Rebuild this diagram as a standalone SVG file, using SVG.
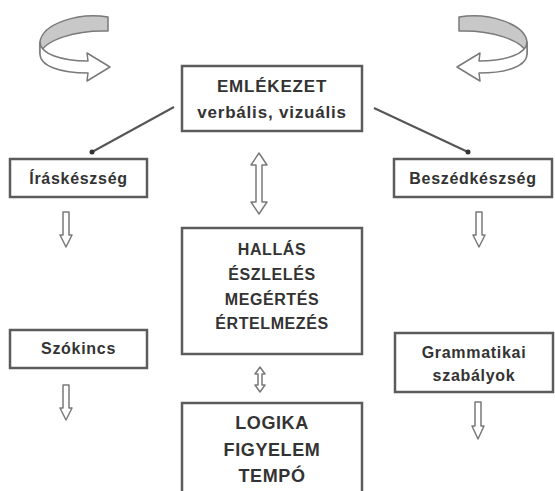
<svg xmlns="http://www.w3.org/2000/svg" width="555" height="491" viewBox="0 0 555 491">
<style>
.box{fill:#fff;stroke:#5c5c5c;stroke-width:2.5}
.t{font-family:"Liberation Sans",Arial,sans-serif;font-weight:bold;fill:#333;text-anchor:middle}
.big{font-size:17px;letter-spacing:0.8px}
.lg{font-size:18px;letter-spacing:0.6px}
.mid{font-size:16px;letter-spacing:0.6px}
.sm{font-size:16px;letter-spacing:0.7px}
.blk{fill:#fff;stroke:#7a7a7a;stroke-width:1.5;stroke-linejoin:round}
.back{fill:#c8c8c8;stroke:#7a7a7a;stroke-width:1.5;stroke-linejoin:round}
.con{stroke:#555;stroke-width:2;fill:none}
</style>
<defs>
<g id="curl">
<path class="back" d="M108,17 C78,12 42,24 40,42 L40,54 C44,40 76,30 108,31 Z"/>
<path class="blk" d="M40,42 C40,54 62,61 88,61 L87,53 L110,67 L87,81 L88,73 C60,73 40,66 40,54 Z"/>
</g>
</defs>
<rect width="555" height="491" fill="#fff"/>
<g id="curl-left">
<use href="#curl"/>
</g>
<g id="curl-right" transform="translate(567,0) scale(-1,1)">
<use href="#curl"/>
</g>
<g id="connectors">
<line class="con" x1="174" y1="107" x2="92" y2="152"/>
<circle cx="92" cy="152" r="2.5" fill="#333"/>
<line class="con" x1="374" y1="108" x2="468" y2="152"/>
<circle cx="468" cy="152" r="2.5" fill="#333"/>
<path class="blk" d="M259,153 L267,165 L262,165 L262,202 L267,202 L259,214 L251,202 L256,202 L256,165 L251,165 Z"/>
<path class="blk" d="M260,367 L265,374 L262,374 L262,385 L265,385 L260,392 L255,385 L258,385 L258,374 L255,374 Z"/>
<path class="blk" d="M63,212 L69,212 L69,235 L72,235 L66,247 L60,235 L63,235 Z"/>
<path class="blk" d="M63,385 L69,385 L69,408 L72,408 L66,420 L60,408 L63,408 Z"/>
<path class="blk" d="M476,212 L482,212 L482,235 L485,235 L479,247 L473,235 L476,235 Z"/>
<path class="blk" d="M475,402 L481,402 L481,426 L484,426 L478,439 L472,426 L475,426 Z"/>
</g>
<g id="emlekezet">
<rect class="box" x="182" y="66" width="180" height="65"/>
<text class="t big" x="272" y="92">EMLÉKEZET</text>
<text class="t big" x="272" y="118">verbális, vizuális</text>
</g>
<g id="iraskeszseg">
<rect class="box" x="10" y="159" width="137" height="38"/>
<text class="t sm" x="78.5" y="184">Íráskészség</text>
</g>
<g id="beszedkeszseg">
<rect class="box" x="394" y="159" width="158" height="38"/>
<text class="t sm" x="473" y="184">Beszédkészség</text>
</g>
<g id="hallas">
<rect class="box" x="182" y="228" width="180" height="126"/>
<text class="t mid" x="272" y="255">HALLÁS</text>
<text class="t mid" x="272" y="280">ÉSZLELÉS</text>
<text class="t mid" x="272" y="305">MEGÉRTÉS</text>
<text class="t mid" x="272" y="329">ÉRTELMEZÉS</text>
</g>
<g id="szokincs">
<rect class="box" x="10" y="330" width="137" height="38"/>
<text class="t sm" x="78.5" y="354">Szókincs</text>
</g>
<g id="grammatikai">
<rect class="box" x="395" y="333" width="158" height="59"/>
<text class="t sm" x="474" y="358">Grammatikai</text>
<text class="t sm" x="474" y="381">szabályok</text>
</g>
<g id="logika">
<rect class="box" x="182" y="403" width="180" height="100"/>
<text class="t lg" x="272" y="429">LOGIKA</text>
<text class="t lg" x="272" y="456">FIGYELEM</text>
<text class="t lg" x="272" y="482">TEMPÓ</text>
</g>
</svg>
